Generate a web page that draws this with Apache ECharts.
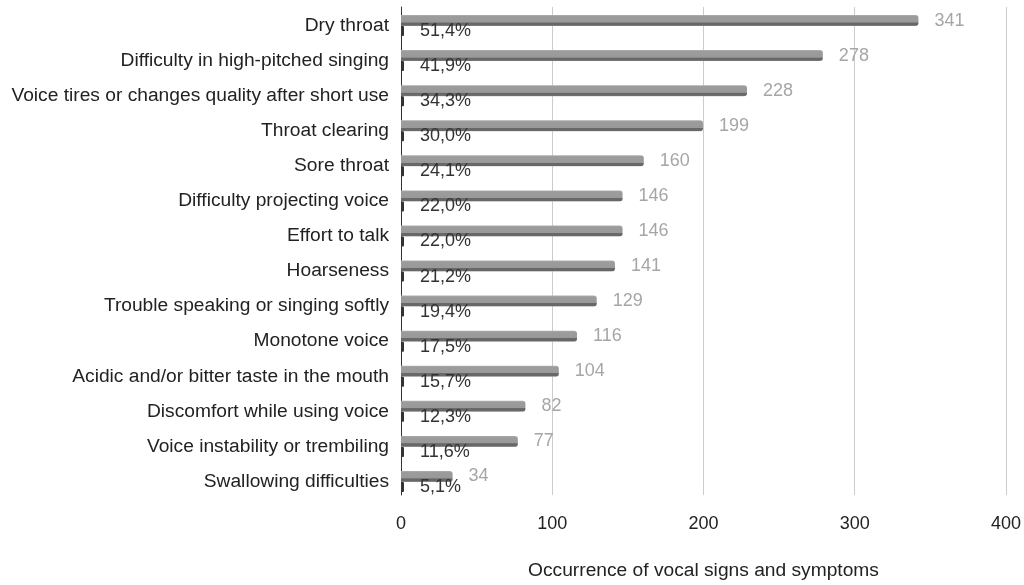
<!DOCTYPE html>
<html>
<head>
<meta charset="utf-8">
<script src="https://cdn.jsdelivr.net/npm/echarts@6/dist/echarts.min.js"></script>
<style>
html,body{margin:0;padding:0;background:#fff;}
#chart{width:1024px;height:585px;}
</style>
</head>
<body>
<div id="chart"></div>
<script>
var categories = [
  'Dry throat',
  'Difficulty in high-pitched singing',
  'Voice tires or changes quality after short use',
  'Throat clearing',
  'Sore throat',
  'Difficulty projecting voice',
  'Effort to talk',
  'Hoarseness',
  'Trouble speaking or singing softly',
  'Monotone voice',
  'Acidic and/or bitter taste in the mouth',
  'Discomfort while using voice',
  'Voice instability or trembiling',
  'Swallowing difficulties'
];
var counts = [341, 278, 228, 199, 160, 146, 146, 141, 129, 116, 104, 82, 77, 34];
var percents = [51.4, 41.9, 34.3, 30.0, 24.1, 22.0, 22.0, 21.2, 19.4, 17.5, 15.7, 12.3, 11.6, 5.1];
var xTicks = [0, 100, 200, 300, 400];
var axisTitle = 'Occurrence of vocal signs and symptoms';

var FONT = 'Liberation Sans, Arial, sans-serif';
var chart = echarts.init(document.getElementById('chart'));

var barGradient = new echarts.graphic.LinearGradient(0, 0, 0, 1, [
  {offset: 0, color: '#b0b0b0'},
  {offset: 0.12, color: '#9c9c9c'},
  {offset: 0.66, color: '#999999'},
  {offset: 0.70, color: '#686868'},
  {offset: 0.93, color: '#686868'},
  {offset: 1, color: '#a8a8a8'}
]);

chart.setOption({
  animation: false,
  backgroundColor: '#ffffff',
  grid: [
    {left: 401, right: 16, top: 8, bottom: 86, containLabel: false},
    {left: 401, right: 16, top: 7, bottom: 79, containLabel: false}
  ],
  xAxis: [
    {
      gridIndex: 0, type: 'value', min: xTicks[0], max: xTicks[xTicks.length - 1], interval: 100,
      axisLine: {show: false}, axisTick: {show: false}, axisLabel: {show: false}, splitLine: {show: false}
    },
    {
      gridIndex: 1, type: 'value', min: xTicks[0], max: xTicks[xTicks.length - 1], interval: 100,
      axisLine: {show: false}, axisTick: {show: false},
      axisLabel: {color: '#222', fontSize: 18, fontFamily: FONT, margin: 20},
      splitLine: {show: true, lineStyle: {color: '#cccccc', width: 1}},
      name: axisTitle, nameLocation: 'middle', nameGap: 66,
      nameTextStyle: {color: '#222', fontSize: 19.2, fontFamily: FONT}
    }
  ],
  yAxis: [
    {
      gridIndex: 0, type: 'category', data: categories, inverse: true,
      axisLine: {show: false}, axisTick: {show: false},
      axisLabel: {color: '#222', fontSize: 19.2, fontFamily: FONT, margin: 12},
      splitLine: {show: false}
    },
    {
      gridIndex: 1, type: 'value', min: 0, max: 1,
      axisLine: {show: true, onZero: false, lineStyle: {color: '#333', width: 1}},
      axisTick: {show: false}, axisLabel: {show: false}, splitLine: {show: false}
    }
  ],
  series: [
    {
      name: 'Occurrence', type: 'bar', xAxisIndex: 0, yAxisIndex: 0,
      data: counts, barWidth: 11, barGap: '0%',
      itemStyle: {color: barGradient, borderRadius: [0, 3, 3, 0]},
      label: {show: true, position: 'right', distance: 16, color: '#a6a6a6', fontSize: 18, fontFamily: FONT}
    },
    {
      name: 'Percent', type: 'bar', xAxisIndex: 0, yAxisIndex: 0,
      data: percents.map(function (p) { return p / 100; }), barWidth: 10, barGap: '0%',
      barMinHeight: 3,
      itemStyle: {color: '#333333', borderRadius: [0, 1, 1, 0]},
      label: {
        show: true, position: 'right', distance: 16, color: '#333', fontSize: 18, fontFamily: FONT,
        formatter: function (p) { return percents[p.dataIndex].toFixed(1).replace('.', ',') + '%'; }
      }
    }
  ]
});
</script>
</body>
</html>
